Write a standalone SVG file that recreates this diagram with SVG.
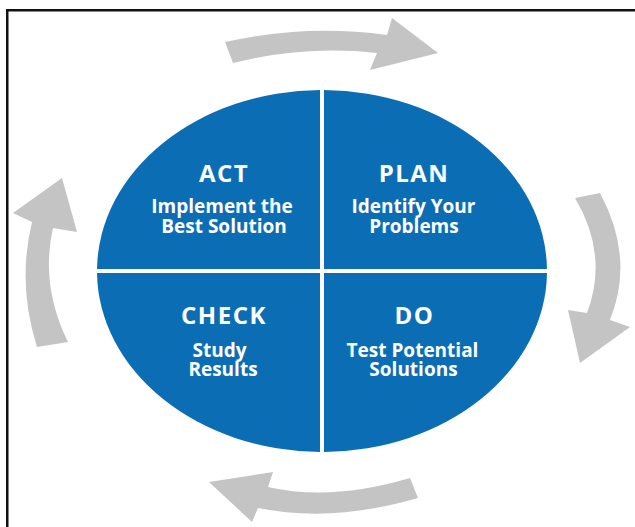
<svg xmlns="http://www.w3.org/2000/svg" width="635" height="527" viewBox="0 0 635 527">
  <style>
    .quad { fill: #0b6eb4; }
    .arrow { fill: #c4c4c4; }
    .head { font-family: "Open Sans", "Noto Sans", sans-serif; font-weight: 700; font-size: 24px; letter-spacing: 1.5px; fill: #ffffff; text-anchor: middle; }
    .sub { font-family: "Open Sans", "Noto Sans", sans-serif; font-weight: 700; font-size: 19px; fill: #ffffff; text-anchor: middle; }
    .frame { stroke: #111111; stroke-width: 2.5; fill: none; }
  </style>
  <rect x="0" y="0" width="635" height="527" fill="#ffffff"/>
  <path class="frame" d="M7.25,527 L7.25,10.25 L635,10.25"/>

  <g id="act">
    <path class="quad" d="M320,269 L97.01,269 A225,181 0 0 1 320,90.01 Z"/>
    <text class="head" x="224" y="182">ACT</text>
    <text class="sub" x="222" y="213">Implement the</text>
    <text class="sub" x="224" y="233">Best Solution</text>
  </g>
  <g id="plan">
    <path class="quad" d="M324,269 L324,90.01 A225,181 0 0 1 546.99,269 Z"/>
    <text class="head" x="414" y="182">PLAN</text>
    <text class="sub" x="413.5" y="213">Identify Your</text>
    <text class="sub" x="414" y="233">Problems</text>
  </g>
  <g id="do">
    <path class="quad" d="M324,273 L546.99,273 A225,181 0 0 1 324,451.99 Z"/>
    <text class="head" x="414.5" y="324">DO</text>
    <text class="sub" x="412.5" y="357">Test Potential</text>
    <text class="sub" x="413.5" y="376">Solutions</text>
  </g>
  <g id="check">
    <path class="quad" d="M320,273 L320,451.99 A225,181 0 0 1 97.01,273 Z"/>
    <text class="head" x="224" y="324">CHECK</text>
    <text class="sub" x="219.5" y="357">Study</text>
    <text class="sub" x="223" y="376">Results</text>
  </g>

  <g id="connectors">
    <path class="arrow" d="M225,42 Q305,24 387,35 L392,18 L438,53 L370,70 L377,53 Q305,45 233,63 Z"/>
    <path class="arrow" d="M600,193 Q635,258 610,320 L630,327 L580,363 L568,310 L587,313 Q609,255 575,198 Z"/>
    <path class="arrow" d="M410,478 L418,498 Q332,523 258,508 L252,522 L209,482 L273,472 L268,487 Q331,501.5 410,478 Z"/>
    <path class="arrow" d="M37,347 Q17,284 32,222 L13,213 L62,178 L77,232 L53,228 Q40,285 68,342 Z"/>
  </g>
</svg>
